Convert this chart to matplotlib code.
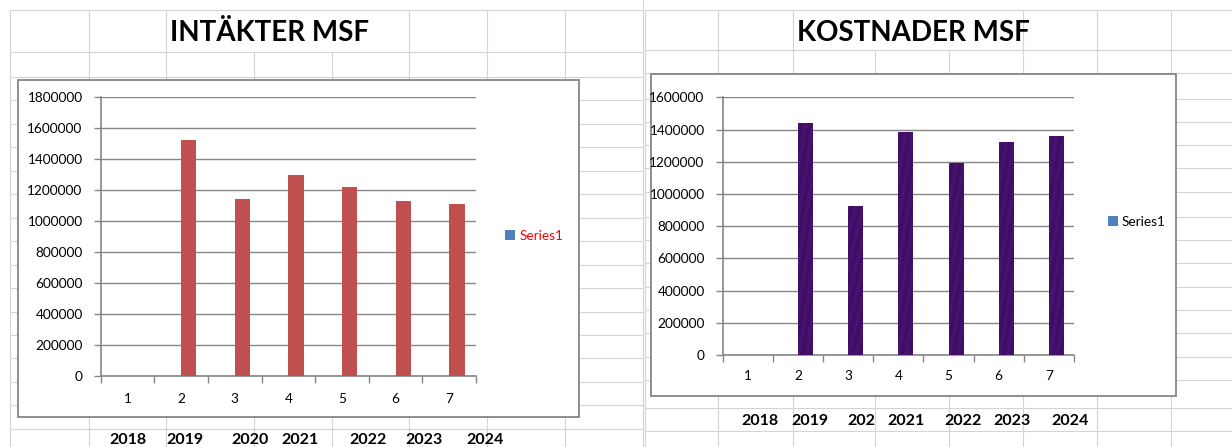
import matplotlib
matplotlib.use("Agg")
import matplotlib.pyplot as plt
import numpy as np
from matplotlib.colors import LinearSegmentedColormap
from matplotlib.patches import Rectangle

W, H = 1232, 447
FONT = ["Lato", "DejaVu Sans"]
plt.rcParams["font.family"] = FONT

# data
categories = [1, 2, 3, 4, 5, 6, 7]
years = [2018, 2019, 2020, 2021, 2022, 2023, 2024]
intakter = [0, 1527000, 1141000, 1300000, 1219000, 1130000, 1113000]
kostnader = [0, 1440000, 925000, 1385000, 1194000, 1323000, 1360000]
year_labels = ["2018", "2019", "2020", "2021", "2022", "2023", "2024"]

GRID = "#d4d4d4"
AX_GREY = "#868686"
RED = "#c0504d"
BLUE = "#4f81bd"

fig = plt.figure(figsize=(W / 100, H / 100), dpi=100)
bg = fig.add_axes([0, 0, 1, 1])
bg.set_xlim(0, W)
bg.set_ylim(H, 0)
bg.axis("off")


def vline(x, y0, y1):
    bg.plot([x, x], [y0, y1], color=GRID, lw=0.8, solid_capstyle="butt")


def hline(y, x0, x1):
    bg.plot([x0, x1], [y, y], color=GRID, lw=0.8, solid_capstyle="butt")


# spreadsheet grid, left sheet
for x in [10, 89, 166, 409, 487, 565]:
    vline(x, 10, H)
for x in [254, 332]:
    vline(x, 52, H)
left_rows = [10, 52, 77] + [77 + 23.45 * i for i in range(1, 17)]
for y in left_rows:
    hline(y, 10, 642.5)
vline(642.5, 0, H)

# spreadsheet grid, right sheet
for x in [645, 718, 793, 1023, 1097, 1171]:
    vline(x, 10, H)
for x in [875, 949]:
    vline(x, 50, H)
right_rows = [10, 50, 73, 99, 122, 145, 168, 192, 217, 240, 263, 287, 310,
              333, 357, 380, 408, 431]
for y in right_rows:
    hline(y, 645, W)

# chart boxes
bg.add_patch(Rectangle((18, 80), 561, 337, facecolor="white",
                       edgecolor=AX_GREY, lw=1.3, zorder=2))
bg.add_patch(Rectangle((651, 74), 525, 322, facecolor="white",
                       edgecolor=AX_GREY, lw=1.3, zorder=2))

# titles in cells
bg.text(170, 33, "INTÄKTER MSF", fontsize=20, fontweight="bold",
        va="center", ha="left", color="black", zorder=3)
bg.text(797, 33, "KOSTNADER MSF", fontsize=20, fontweight="bold",
        va="center", ha="left", color="black", zorder=3)

# year rows under charts
left_year_x = [128, 185, 250, 300, 368, 424, 485]
for x, t in zip(left_year_x, year_labels):
    bg.text(x, 440, t, fontsize=11.5, fontweight="bold", ha="center",
            va="center", zorder=3)
right_year_x = [760, 810, 866, 906, 963, 1012, 1070]
for x, t in zip(right_year_x, year_labels):
    txt = bg.text(x, 421, t, fontsize=11.5, fontweight="bold", ha="center",
                  va="center", zorder=3)
    if t == "2020":
        clip = Rectangle((800, 408), 75, 23, transform=bg.transData)
        txt.set_clip_on(True)
        txt.set_clip_path(clip)


def chart_axes(x0, y0, x1, y1):
    ax = fig.add_axes([x0 / W, 1 - y1 / H, (x1 - x0) / W, (y1 - y0) / H],
                      zorder=5)
    ax.patch.set_alpha(0)
    return ax


purple_cmap = LinearSegmentedColormap.from_list(
    "purp", ["#2a0748", "#3c0d60", "#4a1374", "#62208e"])
gx, gy = np.meshgrid(np.arange(16), np.arange(240))
texture = (np.sin(gx * 1.7 + gy * 0.37) * np.sin(gy * 0.91 - gx * 0.6)
           + 0.7 * np.sin(gx * 2.9 - gy * 1.43)
           + 0.5 * np.cos(gy * 0.13 + gx * 0.8))


def style_chart(ax, ymax, step, label_pad):
    w = 1 / 3.5
    x = np.array(categories, dtype=float)
    ax.set_xlim(0.5, 7.5)
    ax.set_ylim(0, ymax)
    ax.set_yticks(np.arange(0, ymax + 1, step))
    ax.yaxis.set_major_formatter(matplotlib.ticker.FuncFormatter(
        lambda v, p: f"{int(round(v))}"))
    ax.set_xticks(np.arange(0.5, 8, 1))
    ax.set_xticklabels([])
    ax.set_xticks(x, minor=True)
    ax.set_xticklabels([str(c) for c in categories], minor=True)
    ax.tick_params(axis="x", which="minor", length=0, pad=label_pad,
                   labelsize=9.8, colors="black")
    ax.tick_params(axis="x", which="major", length=5, width=1,
                   color=AX_GREY, direction="out")
    ax.tick_params(axis="y", length=5, width=1, color=AX_GREY,
                   direction="out", pad=8, labelsize=9.8, labelcolor="black")
    for s in ["top", "right"]:
        ax.spines[s].set_visible(False)
    for s in ["left", "bottom"]:
        ax.spines[s].set_color(AX_GREY)
        ax.spines[s].set_linewidth(1.2)
    ax.grid(axis="y", color=AX_GREY, lw=1.0)
    ax.set_axisbelow(True)
    return x, w


# left chart
axL = chart_axes(100.7, 97.3, 476, 376)
xs, w = style_chart(axL, 1800000, 200000, 12)
yb = axL.bar(xs - w, years, width=w, align="edge", color=BLUE, zorder=3)
axL.bar(xs, intakter, width=w, align="edge", color=RED, zorder=3)
legL = axL.legend([yb], ["Series1"], loc="center left",
                  bbox_to_anchor=(505 / W, 1 - 236 / H),
                  bbox_transform=fig.transFigure, frameon=False,
                  handlelength=0.7, handleheight=0.7, handletextpad=0.35,
                  fontsize=9.8, borderpad=0, borderaxespad=0)
for t in legL.get_texts():
    t.set_color("#ff0000")

# right chart
axR = chart_axes(722.7, 97.3, 1074, 355)
xs, w = style_chart(axR, 1600000, 200000, 11)
yb = axR.bar(xs - w, years, width=w, align="edge", color=BLUE, zorder=3)
bars = axR.bar(xs, kostnader, width=w, align="edge", color="#3a0d5e",
               zorder=3)
for b in bars:
    if b.get_height() > 0:
        im = axR.imshow(texture, extent=[b.get_x(), b.get_x() + b.get_width(),
                                         0, b.get_height()],
                        aspect="auto", cmap=purple_cmap, zorder=4,
                        interpolation="bilinear")
        im.set_clip_path(b)
axR.set_xlim(0.5, 7.5)
axR.set_ylim(0, 1600000)
axR.legend([yb], ["Series1"], loc="center left",
           bbox_to_anchor=(1108 / W, 1 - 222 / H),
           bbox_transform=fig.transFigure, frameon=False,
           handlelength=0.7, handleheight=0.7, handletextpad=0.3,
           fontsize=9.8, borderpad=0, borderaxespad=0)

fig.savefig("out.png", dpi=100)
